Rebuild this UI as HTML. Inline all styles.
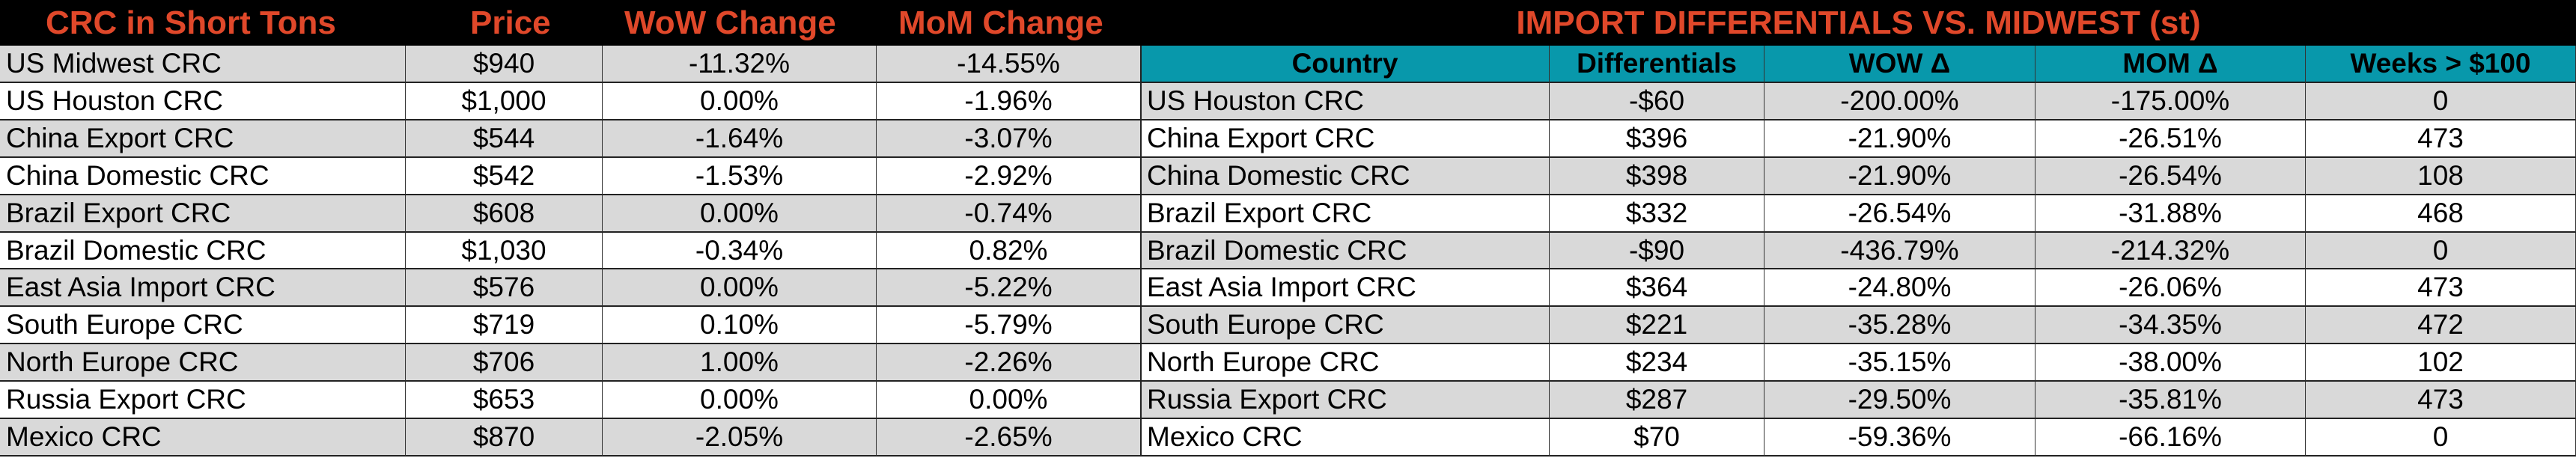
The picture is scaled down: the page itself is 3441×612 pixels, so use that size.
<!DOCTYPE html>
<html><head><meta charset="utf-8">
<style>
html,body{margin:0;padding:0;background:#fff;}
#root{position:relative;width:3441px;height:612px;overflow:hidden;background:#fff;font-family:"Liberation Sans",Arial,sans-serif;}
.hdr{position:absolute;top:0;height:61px;background:#000;color:#E0482A;font-weight:bold;font-size:44px;line-height:61px;white-space:nowrap;}
.cell{position:absolute;box-sizing:border-box;font-size:37px;color:#000;white-space:nowrap;overflow:hidden;border-right:1px solid #333;border-bottom:2px solid #222;display:flex;align-items:center;justify-content:center;}
.cell.l{justify-content:flex-start;padding-left:8px;}
.th{background:#0898AB;font-weight:bold;}
</style></head>
<body>
<div id="root">
  <div class="hdr" style="left:0;width:1524px;">
    <span style="position:absolute;left:61px;">CRC in Short Tons</span>
    <span style="position:absolute;left:628px;">Price</span>
    <span style="position:absolute;left:834px;">WoW Change</span>
    <span style="position:absolute;left:1200px;">MoM Change</span>
  </div>
  <div class="hdr" style="left:1524px;width:1917px;text-align:center;">
    <span>IMPORT DIFFERENTIALS VS. MIDWEST (st)</span>
  </div>
</div>
<script>
var root=document.getElementById('root');
var top0=61, rh=49.9;
var leftCols=[0,542,805,1171,1524];
var leftRows=[
["US Midwest CRC","$940","-11.32%","-14.55%"],
["US Houston CRC","$1,000","0.00%","-1.96%"],
["China Export CRC","$544","-1.64%","-3.07%"],
["China Domestic CRC","$542","-1.53%","-2.92%"],
["Brazil Export CRC","$608","0.00%","-0.74%"],
["Brazil Domestic CRC","$1,030","-0.34%","0.82%"],
["East Asia Import CRC","$576","0.00%","-5.22%"],
["South Europe CRC","$719","0.10%","-5.79%"],
["North Europe CRC","$706","1.00%","-2.26%"],
["Russia Export CRC","$653","0.00%","0.00%"],
["Mexico CRC","$870","-2.05%","-2.65%"]];
var rightCols=[1524,2070,2357,2719,3080,3441];
var rightHead=["Country","Differentials","WOW \u0394","MOM \u0394","Weeks > $100"];
var rightRows=[
["US Houston CRC","-$60","-200.00%","-175.00%","0"],
["China Export CRC","$396","-21.90%","-26.51%","473"],
["China Domestic CRC","$398","-21.90%","-26.54%","108"],
["Brazil Export CRC","$332","-26.54%","-31.88%","468"],
["Brazil Domestic CRC","-$90","-436.79%","-214.32%","0"],
["East Asia Import CRC","$364","-24.80%","-26.06%","473"],
["South Europe CRC","$221","-35.28%","-34.35%","472"],
["North Europe CRC","$234","-35.15%","-38.00%","102"],
["Russia Export CRC","$287","-29.50%","-35.81%","473"],
["Mexico CRC","$70","-59.36%","-66.16%","0"]];
function mk(x0,x1,r,txt,cls,bg){
  var d=document.createElement('div');
  d.className='cell '+cls;
  var y0=Math.round(top0+r*rh), y1=Math.round(top0+(r+1)*rh);
  d.style.left=x0+'px';d.style.width=(x1-x0)+'px';
  d.style.top=y0+'px';d.style.height=(y1-y0)+'px';
  if(bg)d.style.background=bg;
  d.textContent=txt;
  root.appendChild(d);
  return d;
}
leftRows.forEach(function(row,r){
  var bg=(r%2===0)?'#D9D9D9':'#FFFFFF';
  row.forEach(function(t,c){
    var d=mk(leftCols[c],leftCols[c+1],r,t,c===0?'l':'',bg);
    
    
  });
});
rightHead.forEach(function(t,c){
  var d=mk(rightCols[c],rightCols[c+1],0,t,'th','');
  
  
});
rightRows.forEach(function(row,r){
  var bg=(r%2===0)?'#D9D9D9':'#FFFFFF';
  row.forEach(function(t,c){
    var d=mk(rightCols[c],rightCols[c+1],r+1,t,c===0?'l':'',bg);
    
    
  });
});
var sep=document.createElement('div');
sep.style.cssText='position:absolute;left:1523px;top:61px;width:2px;height:549px;background:#222;';


root.appendChild(sep);
</script>
</body></html>
